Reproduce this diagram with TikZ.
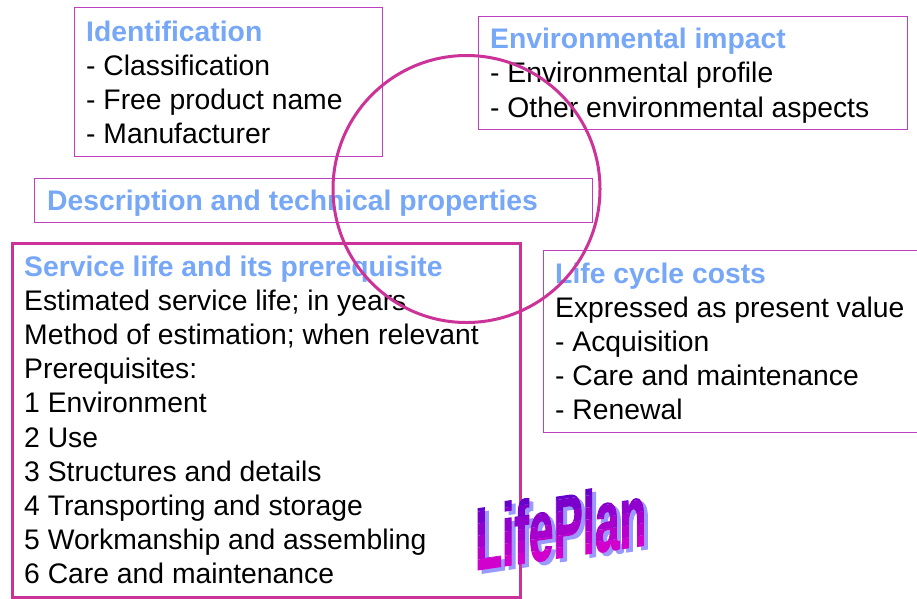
\documentclass[tikz,border=0pt]{standalone}
\usepackage{fontspec}
\setmainfont{Liberation Sans}
\newfontfamily\logofont[FakeBold=2]{Liberation Sans Bold}
\definecolor{titleblue}{RGB}{119,167,247}
\definecolor{thinmag}{RGB}{190,64,190}
\definecolor{thickmag}{RGB}{204,51,153}
\definecolor{shadowlav}{RGB}{153,153,255}
\definecolor{logotop}{RGB}{102,0,204}
\definecolor{logobot}{RGB}{210,0,204}
\tikzset{
  thinbox/.style={draw=thinmag, line width=1.4pt, inner sep=0, anchor=north west, rectangle},
  thickbox/.style={draw=thickmag, line width=3.3pt, inner sep=0, anchor=north west, rectangle},
  title/.style={font=\fontsize{28.3}{34}\selectfont\bfseries, text=titleblue, anchor=base west, inner sep=0},
  body/.style={font=\fontsize{28.3}{34}\selectfont, text=black, anchor=base west, inner sep=0},
  logo/.style={font=\logofont\fontsize{88}{88}\selectfont, anchor=base west, inner sep=0, xscale=0.5}}
\begin{document}
\begin{tikzpicture}[x=1pt,y=-1pt]
\useasboundingbox (0,0) rectangle (917,598);
\clip (0,0) rectangle (917,598);
\fill[white] (0,0) rectangle (917,598);

% boxes
\node[thinbox, minimum width=308, minimum height=149] (idbox) at (74,7) {};
\node[thinbox, minimum width=429, minimum height=113] (envbox) at (478,16) {};
\node[thinbox, minimum width=558, minimum height=44] (descbox) at (34,178) {};
\node[thickbox, minimum width=508, minimum height=354] (svcbox) at (11,242) {};
\node[thinbox, minimum width=400, minimum height=182] (lccbox) at (543,250) {};

% Identification
\node[title] (idt) at (86,41) {Identification};
\foreach \t [count=\i] in {- Classification, - Free product name, - Manufacturer}
  \node[body] (id\i) at (86,41+34*\i) {\t};

% Environmental impact
\node[title] (envt) at (490,48) {Environmental impact};
\node[body] (env1) at (490,82.5) {- Environmental profile};
\node[body] (env2) at (490,117) {- Other environmental aspects};

% Description
\node[title] (desct) at (47,210) {Description and technical properties};

% Service life
\node[title] (svct) at (24,276) {Service life and its prerequisite};
\foreach \t [count=\i] in {Estimated service life; in years, Method of estimation; when relevant,
  Prerequisites:, 1 Environment, 2 Use, 3 Structures and details, 4 Transporting and storage,
  5 Workmanship and assembling, 6 Care and maintenance}
  \node[body] (svc\i) at (24,276+34.2*\i) {\t};

% Life cycle costs
\node[title] (lcct) at (555,283) {Life cycle costs};
\foreach \t [count=\i] in {Expressed as present value, - Acquisition, - Care and maintenance, - Renewal}
  \node[body] (lcc\i) at (555,283+34.1*\i) {\t};

% circle
\node[draw=thickmag, line width=3pt, circle, minimum size=267, inner sep=0] (ring) at (466.5,189) {};

% logo: lavender shadow, then letters shaded from purple (top) to magenta (bottom)
\begin{scope}[shift={(475,570)}, yslant=0.147, transform shape]
  \node[logo, text=shadowlav] (logoshadow) at (4,4) {LifePlan};
  \foreach \i in {0,...,5} {
    \pgfmathsetmacro\ya{-70+\i*12}
    \pgfmathsetmacro\yb{\ya+12}
    \pgfmathsetmacro\mix{100-\i*20}
    \begin{scope}
      \clip (-10,\ya) rectangle (220,\yb);
      \node[logo, text=logotop!\mix!logobot] (logo\i) at (0,0) {LifePlan};
    \end{scope}
  }
\end{scope}
\end{tikzpicture}
\end{document}
